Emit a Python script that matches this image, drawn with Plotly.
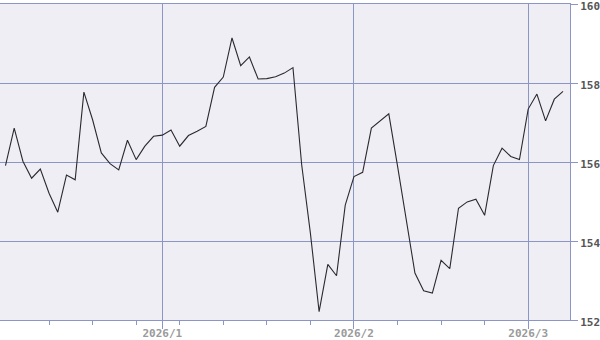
import pandas as pd
import plotly.graph_objects as go

# Trading days (weekdays) from 2025-12-08 to 2026-03-06
dates = list(pd.bdate_range("2025-12-08", "2026-03-06"))

values = [
    155.91, 156.86, 156.02, 155.59, 155.82, 155.21, 154.73, 155.67, 155.55, 157.77,
    157.07, 156.23, 155.96, 155.80, 156.55, 156.06, 156.40, 156.65, 156.68, 156.81,
    156.40, 156.67, 156.78, 156.90, 157.89, 158.15, 159.14, 158.44, 158.66, 158.10,
    158.11, 158.16, 158.25, 158.39, 155.93, 154.20, 152.21, 153.41, 153.12, 154.91,
    155.63, 155.74, 156.86, 157.03, 157.22, 155.90, 154.58, 153.19, 152.74, 152.68,
    153.51, 153.30, 154.83, 154.99, 155.06, 154.65, 155.91, 156.35, 156.14, 156.06,
    157.34, 157.72, 157.04, 157.59, 157.79,
]

y_ticks = [152, 154, 156, 158, 160]

idx = list(range(len(dates)))

# month ticks: first trading day of each month (except the first month shown)
month_pos, month_text = [], []
for i in range(1, len(dates)):
    if dates[i].month != dates[i - 1].month:
        month_pos.append(i)
        month_text.append(f"{dates[i].year}/{dates[i].month}")

# weekly minor ticks: Mondays (after the first week)
week_pos = [i for i in range(1, len(dates)) if dates[i].weekday() == 0 and i not in month_pos]

GRID = "#8c96c6"
FONT = "DejaVu Sans Mono"

fig = go.Figure()
fig.add_trace(go.Scatter(
    x=idx, y=values, mode="lines",
    line=dict(color="#2a2a2e", width=1.1),
    hoverinfo="skip",
))

fig.update_layout(
    width=600, height=340,
    margin=dict(l=0, r=30, t=4, b=20),
    paper_bgcolor="white",
    plot_bgcolor="#eeeef4",
    showlegend=False,
    xaxis=dict(
        range=[-0.63, 64.8], automargin=False,
        tickmode="array", tickvals=month_pos, ticktext=month_text,
        ticks="outside", ticklen=8, tickcolor=GRID, tickwidth=1,
        showgrid=True, gridcolor=GRID, gridwidth=1,
        showline=True, linecolor=GRID, linewidth=1, mirror=True,
        zeroline=False, ticklabeloverflow="allow", ticklabelstandoff=-5,
        tickfont=dict(family=FONT, size=11, color="#9a9a9a", weight="bold"),
        minor=dict(tickmode="array", tickvals=week_pos, ticks="outside",
                   ticklen=4, tickcolor=GRID, tickwidth=1, showgrid=False),
    ),
    yaxis=dict(
        range=[152, 160], side="right", automargin=False,
        tickmode="array", tickvals=y_ticks,
        ticks="outside", ticklen=7, tickcolor=GRID, tickwidth=1,
        showgrid=True, gridcolor=GRID, gridwidth=1,
        showline=True, linecolor=GRID, linewidth=1, mirror=True,
        zeroline=False, ticklabeloverflow="allow", ticklabelshift=2,
        tickfont=dict(family=FONT, size=11, color="#555555", weight="bold"),
    ),
)

fig.write_html("out.html")
